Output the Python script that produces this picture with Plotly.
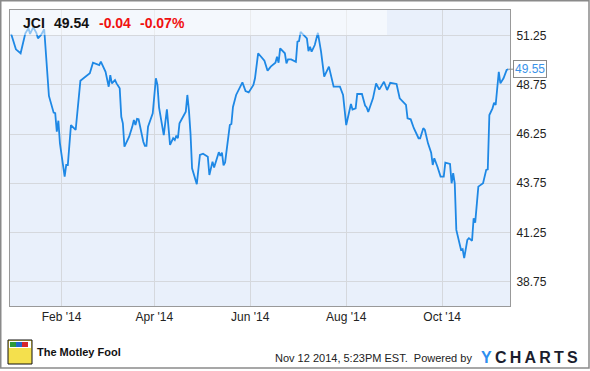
import plotly.graph_objects as go

# ---- data ----
dates = [
    "2013-12-31", "2014-01-03", "2014-01-06", "2014-01-08", "2014-01-09", "2014-01-11",
    "2014-01-12", "2014-01-14", "2014-01-16", "2014-01-17", "2014-01-19", "2014-01-21",
    "2014-01-23", "2014-01-24", "2014-01-27", "2014-01-28", "2014-01-29", "2014-01-30",
    "2014-01-31", "2014-02-03", "2014-02-04", "2014-02-05", "2014-02-07", "2014-02-08",
    "2014-02-10", "2014-02-13", "2014-02-19", "2014-02-21", "2014-02-25", "2014-02-26",
    "2014-03-01", "2014-03-03", "2014-03-04", "2014-03-05", "2014-03-07", "2014-03-08",
    "2014-03-10", "2014-03-11", "2014-03-12", "2014-03-13", "2014-03-16", "2014-03-18",
    "2014-03-19", "2014-03-20", "2014-03-21", "2014-03-22", "2014-03-23", "2014-03-25",
    "2014-03-26", "2014-03-27", "2014-03-28", "2014-03-31", "2014-04-02", "2014-04-03",
    "2014-04-04", "2014-04-07", "2014-04-09", "2014-04-11", "2014-04-13", "2014-04-14",
    "2014-04-15", "2014-04-16", "2014-04-17", "2014-04-18", "2014-04-21", "2014-04-22",
    "2014-04-23", "2014-04-24", "2014-04-25", "2014-04-28", "2014-04-30", "2014-05-02",
    "2014-05-05", "2014-05-06", "2014-05-08", "2014-05-09", "2014-05-11", "2014-05-12",
    "2014-05-13", "2014-05-14", "2014-05-15", "2014-05-16", "2014-05-19", "2014-05-20",
    "2014-05-21", "2014-05-23", "2014-05-27", "2014-05-29", "2014-05-31", "2014-06-03",
    "2014-06-04", "2014-06-06", "2014-06-10", "2014-06-12", "2014-06-14", "2014-06-17",
    "2014-06-18", "2014-06-19", "2014-06-20", "2014-06-23", "2014-06-24", "2014-06-25",
    "2014-06-27", "2014-06-30", "2014-07-01", "2014-07-02", "2014-07-03", "2014-07-07",
    "2014-07-08", "2014-07-09", "2014-07-10", "2014-07-12", "2014-07-14", "2014-07-16",
    "2014-07-18", "2014-07-21", "2014-07-24", "2014-07-28", "2014-07-30", "2014-08-01",
    "2014-08-04", "2014-08-05", "2014-08-07", "2014-08-08", "2014-08-11", "2014-08-13",
    "2014-08-14", "2014-08-15", "2014-08-18", "2014-08-20", "2014-08-22", "2014-08-25",
    "2014-08-27", "2014-08-29", "2014-09-02", "2014-09-04", "2014-09-08", "2014-09-09",
    "2014-09-11", "2014-09-13", "2014-09-16", "2014-09-17", "2014-09-19", "2014-09-20",
    "2014-09-22", "2014-09-24", "2014-09-25", "2014-09-26", "2014-09-28", "2014-09-30",
    "2014-10-02", "2014-10-03", "2014-10-06", "2014-10-07", "2014-10-08", "2014-10-09",
    "2014-10-10", "2014-10-12", "2014-10-13", "2014-10-14", "2014-10-15", "2014-10-17",
    "2014-10-18", "2014-10-20", "2014-10-21", "2014-10-22", "2014-10-24", "2014-10-27",
    "2014-10-29", "2014-10-30", "2014-10-31", "2014-11-02", "2014-11-03", "2014-11-04",
    "2014-11-06", "2014-11-07", "2014-11-09", "2014-11-11", "2014-11-12",
]
prices = [
    51.34, 50.56, 50.36, 51.12, 51.37, 51.63,
    51.34, 51.68, 51.40, 51.12, 51.29, 51.58,
    49.34, 48.19, 47.34, 47.31, 46.37, 46.93,
    45.78, 44.09, 44.68, 44.68, 46.71, 46.63,
    46.46, 48.96, 49.34, 49.88, 49.76, 49.93,
    49.42, 48.66, 49.25, 48.83, 49.00, 48.83,
    48.58, 47.13, 46.80, 45.61, 46.12, 46.63,
    46.97, 46.71, 47.02, 47.00, 46.55, 45.86,
    45.65, 45.65, 46.63, 47.31, 49.09, 48.75,
    47.61, 46.20, 47.51, 45.70, 46.04, 45.95,
    46.17, 46.04, 46.80, 46.97, 47.39, 48.24,
    47.47, 46.29, 44.51, 43.70, 45.19, 45.25,
    45.10, 44.17, 44.85, 44.55, 45.06, 45.33,
    45.14, 45.31, 44.66, 44.81, 46.71, 46.76,
    47.63, 48.24, 48.88, 48.44, 48.37, 48.75,
    49.09, 50.36, 49.98, 49.47, 49.68, 49.88,
    50.18, 49.88, 50.61, 50.36, 49.85, 50.05,
    50.05, 49.93, 50.95, 50.98, 51.45, 51.12,
    50.47, 50.69, 50.44, 50.78, 51.40, 50.44,
    49.17, 49.68, 48.66, 48.66, 48.24, 46.71,
    47.78, 47.50, 47.56, 48.29, 48.29, 47.70,
    47.61, 47.37, 48.07, 48.83, 48.51, 48.91,
    48.49, 48.86, 48.80, 48.07, 47.73, 47.05,
    47.00, 46.55, 46.04, 46.04, 46.55, 46.46,
    45.78, 45.31, 44.68, 45.02, 44.59, 44.09,
    44.09, 44.80, 44.73, 43.75, 44.26, 43.75,
    41.38, 40.78, 40.36, 40.40, 39.94, 40.87,
    40.96, 40.83, 41.97, 41.75, 43.58, 43.75,
    44.43, 44.46, 47.22, 47.56, 47.85, 47.73,
    49.42, 48.83, 49.09, 49.51, 49.55,
]
ticker = "JCI"
last_price = "49.54"
change = "-0.04"
change_pct = "-0.07%"
last_label = "49.55"
y_ticks = [38.75, 41.25, 43.75, 46.25, 48.75, 51.25]
x_tick_vals = ["2014-02-01", "2014-04-01", "2014-06-01", "2014-08-01", "2014-10-01"]
x_tick_text = ["Feb '14", "Apr '14", "Jun '14", "Aug '14", "Oct '14"]
footer_time = "Nov 12 2014, 5:23PM EST.  Powered by"

W, H = 590, 371
L, R, T, B = 10, 80, 10, 65
pw, ph = W - L - R, H - T - B


def px(x):
    return (x - L) / pw


def py(y):
    return (H - B - y) / ph


LINE = "#1e88e5"
FONT = "Arial, Liberation Sans, sans-serif"

fig = go.Figure()
fig.add_trace(go.Scatter(
    x=dates, y=prices, mode="lines",
    line=dict(color=LINE, width=1.8),
    hoverinfo="skip", showlegend=False,
))

shapes = [
    # header band (semi-transparent white)
    dict(type="rect", xref="paper", yref="paper", x0=0, x1=px(387), y0=py(35), y1=1,
         fillcolor="rgba(255,255,255,0.5)", line=dict(width=0), layer="above"),
    # outer frame
    dict(type="rect", xref="paper", yref="paper", x0=px(0.75), x1=px(589), y0=py(368), y1=py(0.75),
         fillcolor="rgba(0,0,0,0)", line=dict(color="#8a8a8a", width=1.5), layer="above"),
    # logo approximation
    dict(type="rect", xref="paper", yref="paper", x0=px(8), x1=px(32), y0=py(364), y1=py(340),
         fillcolor="#f4e04d", line=dict(color="#111", width=1), layer="above"),
    dict(type="rect", xref="paper", yref="paper", x0=px(9), x1=px(31), y0=py(348), y1=py(341),
         fillcolor="#ffffff", line=dict(width=0), layer="above"),
    dict(type="rect", xref="paper", yref="paper", x0=px(10), x1=px(16), y0=py(347), y1=py(342),
         fillcolor="#2e9a3a", line=dict(width=0), layer="above"),
    dict(type="rect", xref="paper", yref="paper", x0=px(16), x1=px(22), y0=py(347), y1=py(342),
         fillcolor="#2266cc", line=dict(width=0), layer="above"),
    dict(type="rect", xref="paper", yref="paper", x0=px(22), x1=px(28), y0=py(347), y1=py(342),
         fillcolor="#d8262a", line=dict(width=0), layer="above"),
]

annotations = [
    dict(text="<b>%s</b>" % ticker, x=px(20.5), y=py(23), xref="paper", yref="paper",
         xanchor="left", yanchor="middle", showarrow=False, font=dict(family=FONT, size=14, color="#111")),
    dict(text="<b>%s</b>" % last_price, x=px(51.5), y=py(23), xref="paper", yref="paper",
         xanchor="left", yanchor="middle", showarrow=False, font=dict(family=FONT, size=14, color="#111")),
    dict(text="<b>%s</b>" % change, x=px(96.5), y=py(23), xref="paper", yref="paper",
         xanchor="left", yanchor="middle", showarrow=False, font=dict(family=FONT, size=14, color="#f01010")),
    dict(text="<b>%s</b>" % change_pct, x=px(137.5), y=py(23), xref="paper", yref="paper",
         xanchor="left", yanchor="middle", showarrow=False, font=dict(family=FONT, size=14, color="#f01010")),
    # last value label
    dict(text=last_label, x=dates[-1], y=prices[-1], xref="x", yref="y",
         showarrow=True, arrowhead=0, arrowwidth=1, arrowcolor="#8a8a8a",
         ax=5, ay=0, xanchor="left", yanchor="middle",
         bgcolor="#ffffff", bordercolor="#8a8a8a", borderwidth=1, borderpad=1,
         font=dict(family=FONT, size=12, color="#3a92e8")),
    # footer
    dict(text="<b>The Motley Fool</b>", x=px(35), y=py(352), xref="paper", yref="paper",
         xanchor="left", yanchor="middle", showarrow=False, font=dict(family=FONT, size=11, color="#111")),
    dict(text=footer_time, x=px(474), y=py(358), xref="paper", yref="paper",
         xanchor="right", yanchor="middle", showarrow=False,
         font=dict(family=FONT, size=11, color="#222")),
    dict(text="<b><span style='color:#2d8ff0'>Y</span>\u2009C\u2009H\u2009A\u2009R\u2009T\u2009S</b>",
         x=px(479), y=py(357), xref="paper", yref="paper",
         xanchor="left", yanchor="middle", showarrow=False,
         font=dict(family=FONT, size=16, color="#1b1d2e")),
]

fig.update_layout(
    width=W, height=H,
    margin=dict(l=L, r=R, t=T, b=B, pad=0),
    paper_bgcolor="#ffffff",
    plot_bgcolor="#e9f0fb",
    showlegend=False,
    shapes=shapes,
    annotations=annotations,
    xaxis=dict(
        type="date",
        range=["2013-12-30 06:00", "2014-11-13 03:00"],
        tickmode="array", tickvals=x_tick_vals, ticktext=x_tick_text,
        showgrid=True, gridcolor="#d5d8dd", gridwidth=1,
        showline=True, linecolor="#999999", linewidth=1, mirror=True,
        ticks="", ticklabelstandoff=0,
        tickfont=dict(family=FONT, size=12, color="#222"),
        zeroline=False, fixedrange=True,
    ),
    yaxis=dict(
        side="right",
        range=[37.51, 52.56],
        tickmode="array", tickvals=y_ticks, ticktext=["%.2f" % v for v in y_ticks],
        showgrid=True, gridcolor="#d5d8dd", gridwidth=1,
        showline=True, linecolor="#999999", linewidth=1, mirror=True,
        ticks="", ticklabelstandoff=3,
        tickfont=dict(family=FONT, size=12, color="#222"),
        zeroline=False, fixedrange=True,
    ),
)

fig.write_html("out.html", config=dict(displayModeBar=False))
